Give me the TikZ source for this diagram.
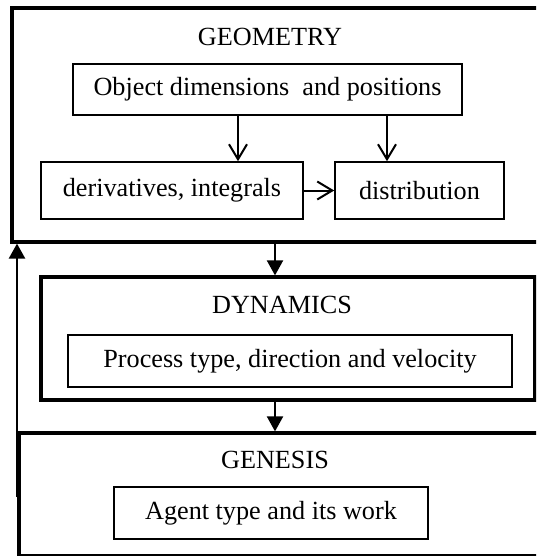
\documentclass[tikz,border=0pt]{standalone}
\usepackage{fontspec}
\setmainfont{Liberation Serif}
\usetikzlibrary{arrows.meta, positioning, calc}
\tikzset{
  every picture/.style={font=\fontsize{13.1}{15}\selectfont, line width=1pt},
  outer/.style={draw, line width=1.6pt, inner sep=0pt},
  box/.style={draw, line width=0.8pt, align=center, inner sep=0pt, minimum height=#1},
  box/.default=26pt,
  title/.style={inner sep=0pt},
  openarrow/.style={-{Straight Barb[length=7.5pt, width=9pt, line width=1pt]}, line width=1pt},
  fillarrow/.style={-{Triangle[length=7.5pt, width=8pt]}, line width=1pt},
}

\begin{document}
\begin{tikzpicture}[x=0.5pt, y=-0.5pt]
  \useasboundingbox (0,0) rectangle (536,556);
  \clip (0,0) rectangle (536,556);
  % outer blocks
  \node[outer, minimum width=268pt, minimum height=117pt] (geo) at (280,125) {};
  \node[outer, minimum width=247pt, minimum height=61.5pt] (dyn) at (288,338.5) {};
  \node[outer, minimum width=264.5pt, minimum height=61.5pt] (gen) at (283.5,494.5) {};
  \node[title] (geot) at (270,37) {GEOMETRY};
  \node[title] (dynt) at (282,305) {DYNAMICS};
  \node[title] (gent) at (275,460) {GENESIS};
  % inner boxes
  \node[box=25.5pt, minimum width=194.5pt] (obj) at (267.5,89.5) {Object dimensions~ and positions};
  \node[box=28.5pt, minimum width=131pt] (deriv) at (172,190.5) {derivatives, integrals};
  \node[box=28.5pt, minimum width=84.5pt] (distr) at (419.5,190.5) {distribution};
  \node[box, minimum width=222pt] (proc) at (290,361) {Process type, direction and velocity};
  \node[box, minimum width=157pt] (agent) at (271,513) {Agent type and its work};
  % connectors
  \coordinate (a1) at (238,0);
  \coordinate (a2) at (387,0);
  \coordinate (mid) at (275,0);
  \coordinate (fb) at (17,497);
  \draw[openarrow] (a1 |- obj.south) -- (a1 |- deriv.north);
  \draw[openarrow] (a2 |- obj.south) -- (a2 |- distr.north);
  \draw[openarrow] (deriv.east) -- (distr.west);
  \draw[fillarrow] (mid |- geo.south) -- (mid |- dyn.north);
  \draw[fillarrow] (mid |- dyn.south) -- (mid |- gen.north);
  \draw[fillarrow, line width=1.2pt] (fb) -- (fb |- geo.south);
\end{tikzpicture}
\end{document}
